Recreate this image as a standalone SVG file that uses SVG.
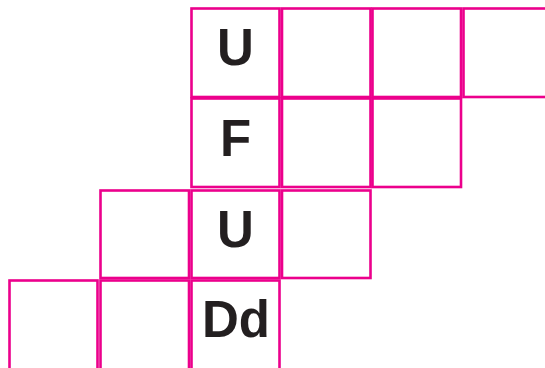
<svg xmlns="http://www.w3.org/2000/svg" width="545" height="368" viewBox="0 0 545 368">
<style>
.c{fill:#fff;stroke:#EC008C;stroke-width:2.6}
.t{font-family:"Liberation Sans",Arial,sans-serif;font-weight:bold;font-size:51px;fill:#231F20;text-anchor:middle}
</style>
<rect width="545" height="368" fill="#fff"/>
<g id="r1c3"><rect class="c" x="191.5" y="8.5" width="88" height="88.5"/><text class="t" x="235.5" y="65">U</text></g>
<g id="r1c4"><rect class="c" x="282" y="8.5" width="88.5" height="88.5"/></g>
<g id="r1c5"><rect class="c" x="372.5" y="8.5" width="88.5" height="88.5"/></g>
<g id="r1c6"><rect class="c" x="463.5" y="8.5" width="88.5" height="88.5"/></g>
<g id="r2c3"><rect class="c" x="191.5" y="98.5" width="88" height="88.5"/><text class="t" x="235.5" y="156">F</text></g>
<g id="r2c4"><rect class="c" x="282" y="98.5" width="88.5" height="88.5"/></g>
<g id="r2c5"><rect class="c" x="372.5" y="98.5" width="88.5" height="88.5"/></g>
<g id="r3c2"><rect class="c" x="100.5" y="190.5" width="88.5" height="87.5"/></g>
<g id="r3c3"><rect class="c" x="191.5" y="190.5" width="88" height="87.5"/><text class="t" x="235.5" y="246.5">U</text></g>
<g id="r3c4"><rect class="c" x="282" y="190.5" width="88.5" height="87.5"/></g>
<g id="r4c1"><rect class="c" x="9.5" y="280.5" width="88" height="100"/></g>
<g id="r4c2"><rect class="c" x="100.5" y="280.5" width="88.5" height="100"/></g>
<g id="r4c3"><rect class="c" x="191.5" y="280.5" width="88" height="100"/><text class="t" x="236" y="336.5">Dd</text></g>
<g id="connectors"/>
</svg>
